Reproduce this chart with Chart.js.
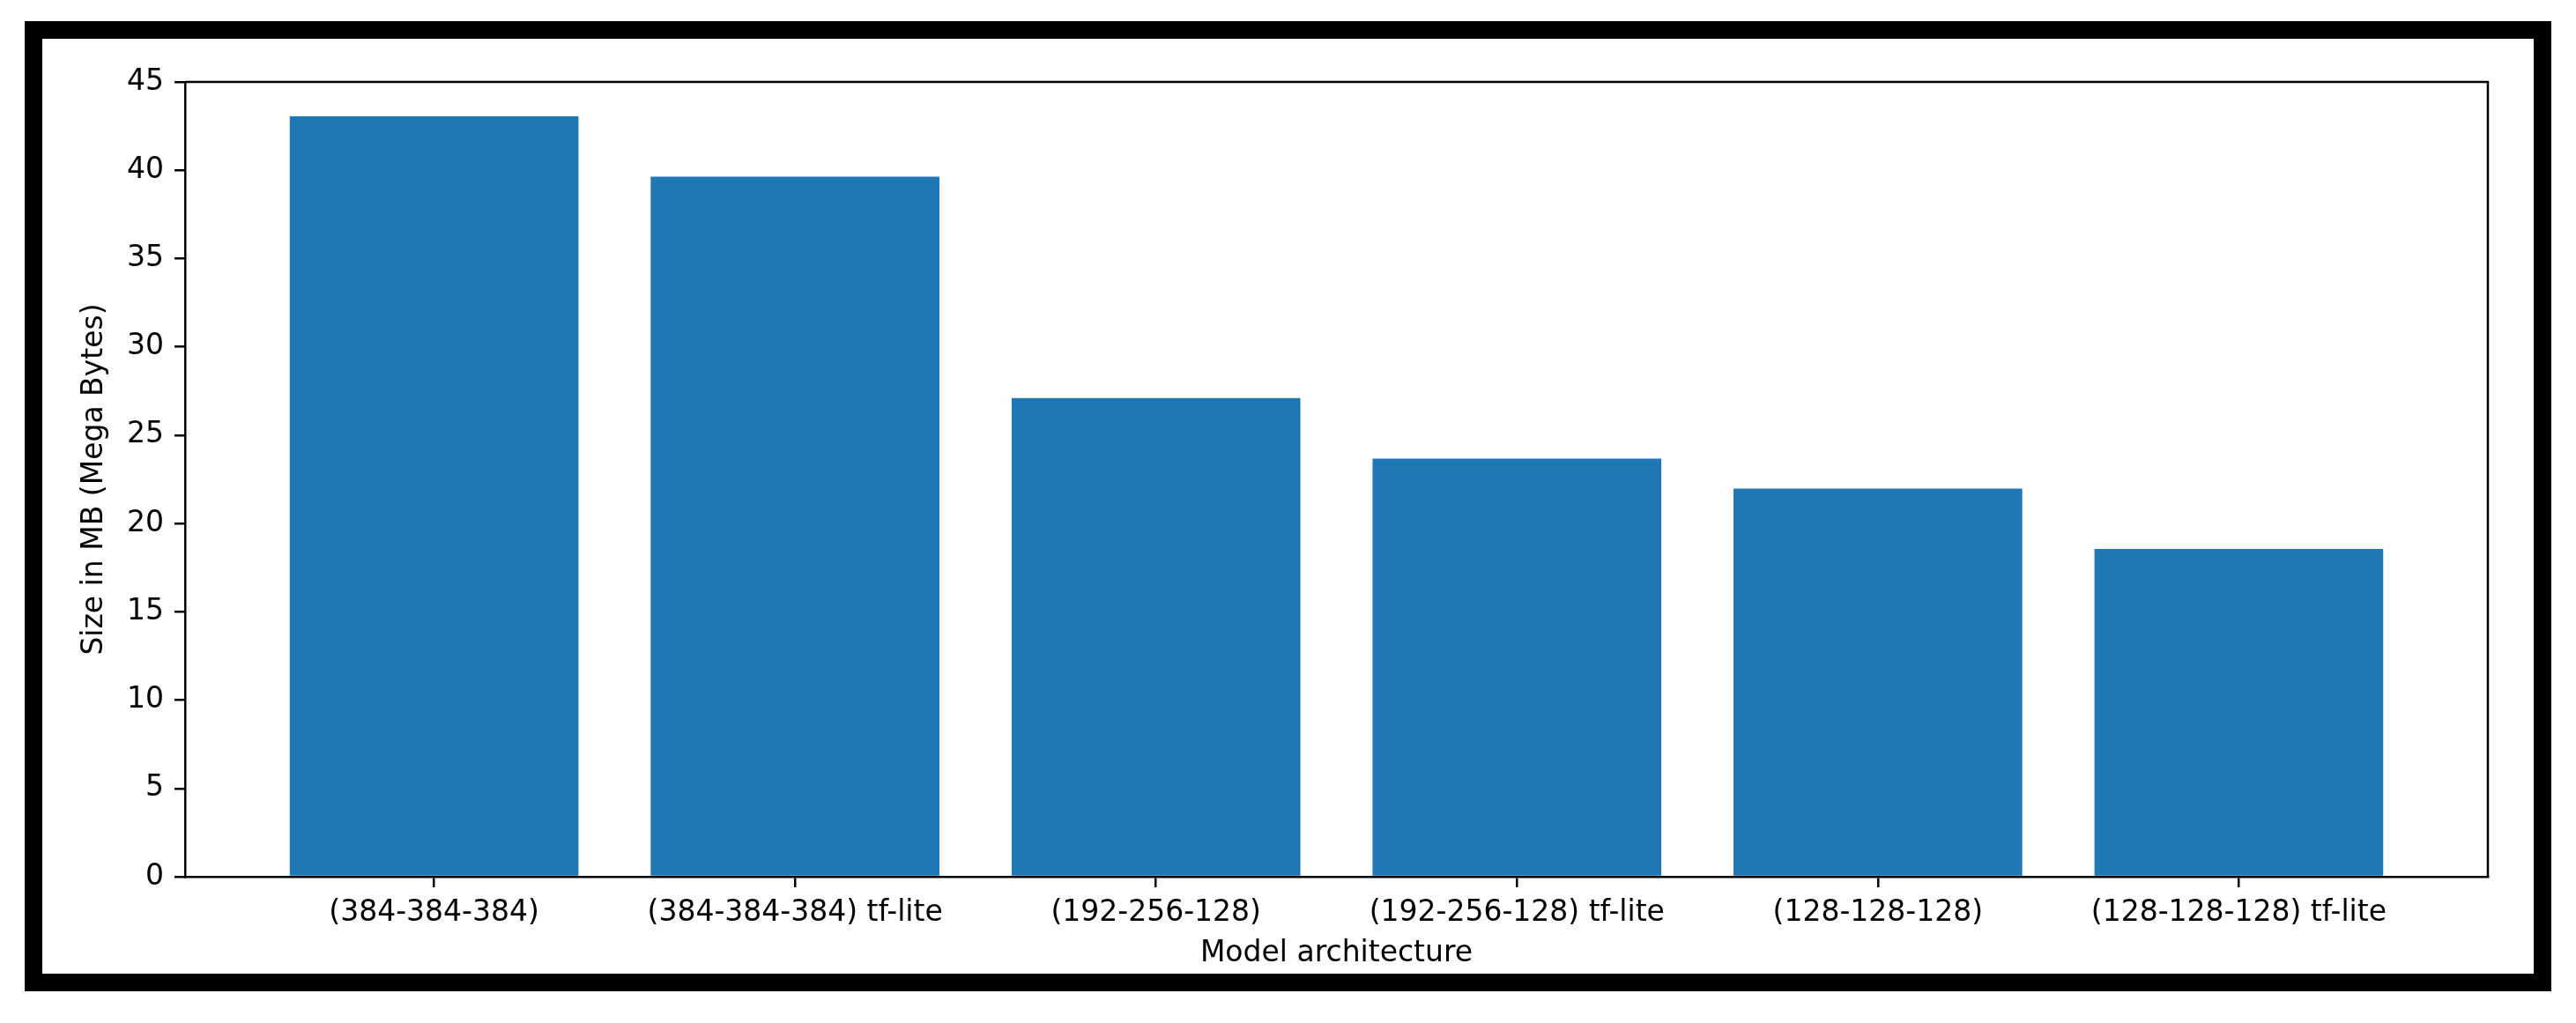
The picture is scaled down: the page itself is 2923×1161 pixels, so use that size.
<!DOCTYPE html>
<html>
<head>
<meta charset="utf-8">
<script src="https://cdn.jsdelivr.net/npm/chart.js@4/dist/chart.umd.min.js"></script>
<style>
  html, body { margin: 0; padding: 0; background: #fff; overflow: hidden; }
  .wrap { position: relative; width: 2923px; height: 1161px; }
  .frame {
    position: absolute; left: 28px; top: 24px; width: 2867px; height: 1101px;
    border: 20px solid #000; box-sizing: border-box; pointer-events: none;
  }
  canvas { position: absolute; left: 0; top: 0; }
</style>
</head>
<body>
<div class="wrap">
  <div class="frame"></div>
  <canvas id="sizeChart" width="2923" height="1161"></canvas>
</div>
<script>
const categories = ['(384-384-384)', '(384-384-384) tf-lite', '(192-256-128)', '(192-256-128) tf-lite', '(128-128-128)', '(128-128-128) tf-lite'];
const sizesMB = [43.06, 39.64, 27.1, 23.67, 21.97, 18.56];
const yTicks = [0, 5, 10, 15, 20, 25, 30, 35, 40, 45];

const barColor = '#1f77b4';
const inkColor = '#000000';

Chart.defaults.font.family = "'DejaVu Sans', sans-serif";
Chart.defaults.font.size = 33;
Chart.defaults.color = inkColor;

// top and right spines (matplotlib box)
const boxPlugin = {
  id: 'box',
  afterDraw(chart) {
    const { ctx, chartArea: a } = chart;
    ctx.save();
    ctx.strokeStyle = inkColor;
    ctx.lineWidth = 2.5;
    ctx.beginPath();
    ctx.moveTo(a.left, a.top);
    ctx.lineTo(a.right, a.top);
    ctx.lineTo(a.right, a.bottom);
    ctx.stroke();
    ctx.restore();
  }
};

const ctx = document.getElementById('sizeChart').getContext('2d');
new Chart(ctx, {
  type: 'bar',
  data: {
    datasets: [{
      data: sizesMB.map((v, i) => ({ x: i, y: v })),
      backgroundColor: barColor,
      borderWidth: 0,
      categoryPercentage: 1,
      barPercentage: 0.8
    }]
  },
  options: {
    responsive: false,
    animation: false,
    layout: { padding: { top: 93, right: 100, left: 0, bottom: 0 } },
    plugins: { legend: { display: false }, tooltip: { enabled: false } },
    scales: {
      x: {
        type: 'linear',
        offset: false,
        min: -0.69,
        max: 5.69,
        afterBuildTicks: (scale) => { scale.ticks = categories.map((_, i) => ({ value: i })); },
        afterFit: (scale) => { scale.height = 166; },
        ticks: {
          autoSkip: false,
          maxRotation: 0,
          padding: 10,
          callback: (v) => categories[v]
        },
        grid: { display: true, offset: false, drawOnChartArea: false, drawTicks: true, tickLength: 12, color: inkColor, lineWidth: 2.5 },
        border: { display: true, color: inkColor, width: 2.5 },
        title: { display: true, text: 'Model architecture', font: { lineHeight: 1 }, padding: { top: 0, bottom: 62 } }
      },
      y: {
        min: 0,
        max: 45,
        afterBuildTicks: (scale) => { scale.ticks = yTicks.map(v => ({ value: v })); },
        afterFit: (scale) => { scale.width = 210; },
        ticks: { padding: 12 },
        grid: { display: true, drawOnChartArea: false, drawTicks: true, tickLength: 12, color: inkColor, lineWidth: 2.5 },
        border: { display: true, color: inkColor, width: 2.5 },
        title: { display: true, text: 'Size in MB (Mega Bytes)', font: { lineHeight: 1 }, padding: { top: 91, bottom: 0 } }
      }
    }
  },
  plugins: [boxPlugin]
});
</script>
</body>
</html>
